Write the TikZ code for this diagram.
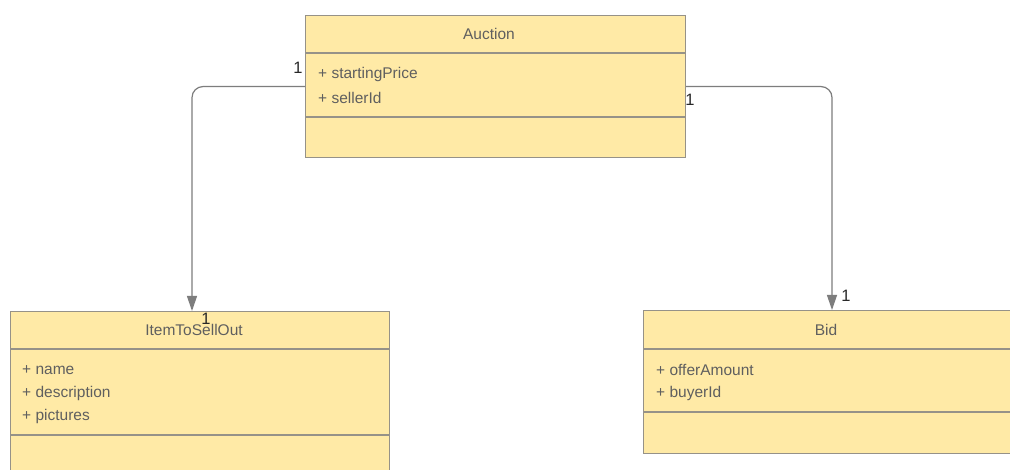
\documentclass[tikz,border=0pt]{standalone}
\usepackage{fontspec}
\setmainfont{Liberation Sans}
\usetikzlibrary{arrows.meta,calc}
\definecolor{boxfill}{RGB}{255,234,166}
\definecolor{boxline}{RGB}{150,146,136}
\definecolor{txt}{RGB}{95,95,95}
\definecolor{conn}{RGB}{125,125,125}
\definecolor{lbl}{RGB}{40,40,40}
\tikzset{
  classbox/.style={draw=boxline, fill=boxfill, line width=1.1pt, inner sep=0pt, anchor=north west},
  divider/.style={draw=boxline, line width=1.1pt},
  title/.style={font=\fontsize{15.5}{18}\selectfont, text=txt, inner sep=0pt},
  attr/.style={font=\fontsize{15.5}{18}\selectfont, text=txt, inner sep=0pt, anchor=west},
  assoc/.style={draw=conn, line width=1.2pt, rounded corners=11pt, -{Triangle[length=15pt,width=10pt]}},
  mult/.style={font=\fontsize{16.5}{18}\selectfont, text=lbl, inner sep=0pt},
}
\begin{document}
\begin{tikzpicture}[x=1pt,y=-1pt]
\useasboundingbox (0,0) rectangle (1010,470);
\clip (0,0) rectangle (1010,470);
\fill[white] (0,0) rectangle (1010,470);
% Auction
\node[classbox, minimum width=380pt, minimum height=142pt] (auction) at (305,15) {};
\draw[divider] (305,53) -- (685,53);
\draw[divider] (305,117) -- (685,117);
\node[title] (auctiont) at (489,34) {Auction};
\node[attr] (a1) at (318,74) {+ startingPrice};
\node[attr] (a2) at (318,98) {+ sellerId};
% ItemToSellOut
\node[classbox, minimum width=379pt, minimum height=170pt] (item) at (10,311) {};
\draw[divider] (10,349) -- (389,349);
\draw[divider] (10,435) -- (389,435);
\node[title] (itemt) at (194,330) {ItemToSellOut};
\node[attr] (i1) at (22,370) {+ name};
\node[attr] (i2) at (22,393) {+ description};
\node[attr] (i3) at (22,416) {+ pictures};
% Bid
\node[classbox, minimum width=380pt, minimum height=143pt] (bid) at (643,310) {};
\draw[divider] (643,349) -- (1023,349);
\draw[divider] (643,412) -- (1023,412);
\node[title] (bidt) at (826,330) {Bid};
\node[attr] (b1) at (656,370) {+ offerAmount};
\node[attr] (b2) at (656,393) {+ buyerId};
% connectors
\coordinate (itemin) at (192,311);
\coordinate (bidin) at (832,310);
\draw[assoc] (auction.west) -| (itemin);
\draw[assoc] (auction.east) -| (bidin);
% multiplicities
\node[mult] (m1) at (298,68) {1};
\node[mult] (m2) at (690,100) {1};
\node[mult] (m3) at (206,319) {1};
\node[mult] (m4) at (846,296) {1};
\end{tikzpicture}
\end{document}
